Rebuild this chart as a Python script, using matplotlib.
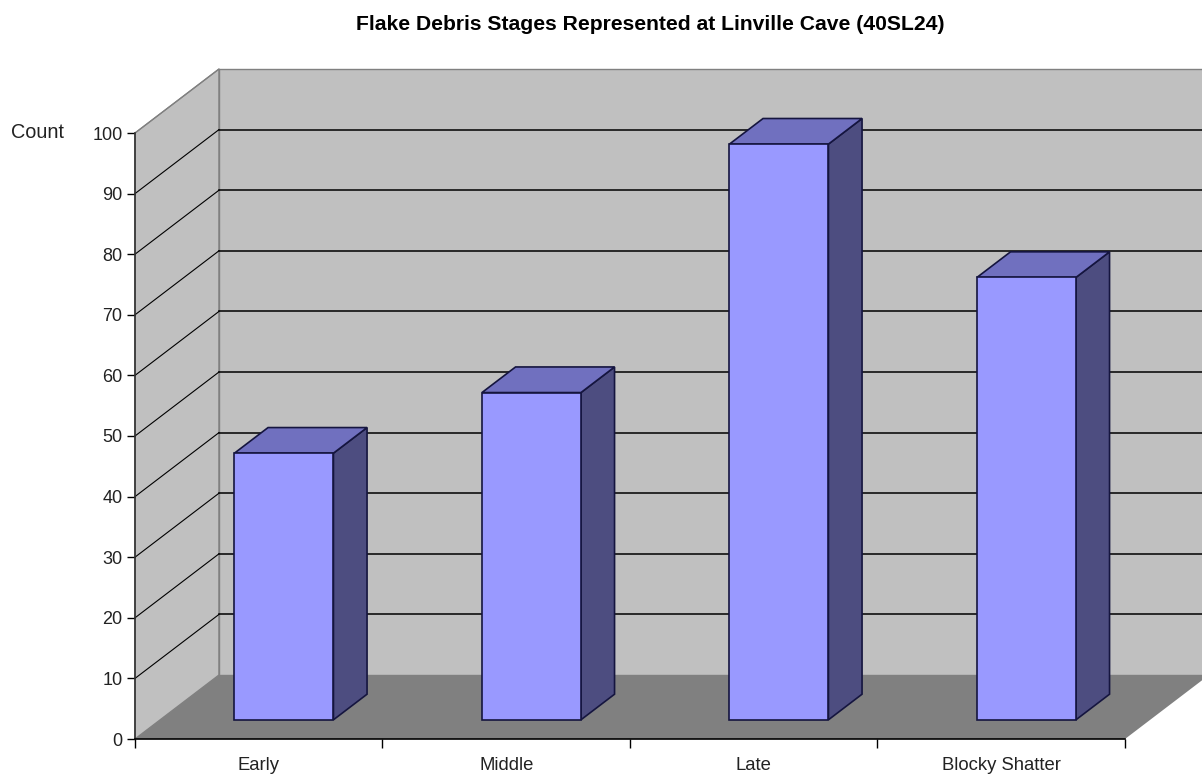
import matplotlib
matplotlib.use('Agg')
import matplotlib.pyplot as plt
from matplotlib.patches import Polygon

categories = ['Early', 'Middle', 'Late', 'Blocky Shatter']
counts = [44, 54, 95, 73]
y_ticks = [0, 10, 20, 30, 40, 50, 60, 70, 80, 90, 100]

# fake 3d depth, in data units
depth_x = 84 / 247.5
depth_y = 64 / 6.06
bar_width = 0.4
bar_front = 0.3
bar_back = 0.7

plt.rcParams['font.family'] = ['Liberation Sans', 'DejaVu Sans']

fig = plt.figure(figsize=(12.02, 7.75), dpi=100)
ax = fig.add_axes([0, 0, 1, 1])
ax.set_xlim(-135 / 247.5, (1202 - 135) / 247.5)
ax.set_ylim(-36 / 6.06, 739 / 6.06)
ax.patch.set_visible(False)

n = len(categories)
top = y_ticks[-1]

# walls and floor
ax.add_patch(Polygon([(0, 0), (depth_x, depth_y), (depth_x, top + depth_y), (0, top)],
                     fc='#c0c0c0', ec='#808080', lw=1, zorder=1))
ax.add_patch(Polygon([(depth_x, depth_y), (n + depth_x, depth_y), (n + depth_x, top + depth_y), (depth_x, top + depth_y)],
                     fc='#c0c0c0', ec='#808080', lw=1, zorder=1))
ax.add_patch(Polygon([(0, 0), (n, 0), (n + depth_x, depth_y), (depth_x, depth_y)],
                     fc='#808080', ec='none', zorder=2))

# gridlines go along the side wall then the back wall
for t in y_ticks[1:]:
    c = 'black' if t < top else '#808080'
    ax.plot([0, depth_x], [t, t + depth_y], color=c, lw=0.8, zorder=3)
    if t < top:
        ax.plot([depth_x, n + depth_x], [t + depth_y, t + depth_y], color='black', lw=1.1, zorder=3)

edge = '#15153f'
for i in range(n):
    x0 = i + 0.5 - bar_width / 2 + bar_front * depth_x
    x1 = x0 + bar_width
    y0 = bar_front * depth_y
    y1 = y0 + counts[i]
    dx = (bar_back - bar_front) * depth_x
    dy = (bar_back - bar_front) * depth_y
    ax.add_patch(Polygon([(x1, y0), (x1 + dx, y0 + dy), (x1 + dx, y1 + dy), (x1, y1)],
                         fc='#4d4d80', ec=edge, lw=1.2, zorder=4))
    ax.add_patch(Polygon([(x0, y1), (x1, y1), (x1 + dx, y1 + dy), (x0 + dx, y1 + dy)],
                         fc='#7070bf', ec=edge, lw=1.2, zorder=4))
    ax.add_patch(Polygon([(x0, y0), (x1, y0), (x1, y1), (x0, y1)],
                         fc='#9999ff', ec=edge, lw=1.2, zorder=5))

# axes lines
for s in ['top', 'right']:
    ax.spines[s].set_visible(False)
ax.spines['left'].set_position(('data', 0))
ax.spines['bottom'].set_position(('data', 0))
ax.spines['left'].set_bounds(0, top)
ax.spines['bottom'].set_bounds(0, n)
ax.spines['left'].set_color('#333333')
ax.spines['left'].set_linewidth(1.2)
ax.spines['bottom'].set_linewidth(1.2)
ax.spines['left'].set_zorder(6)
ax.spines['bottom'].set_zorder(6)

ax.set_yticks(y_ticks)
ax.tick_params(axis='y', length=6, width=1, labelsize=13, pad=3, labelcolor='#222222')
ax.set_xticks(range(n + 1))
ax.set_xticklabels([])
ax.tick_params(axis='x', which='major', length=6.5, width=1)
ax.set_xticks([i + 0.5 for i in range(n)], minor=True)
ax.set_xticklabels(categories, minor=True)
ax.tick_params(axis='x', which='minor', length=0, labelsize=13.3, pad=13, labelcolor='#222222')

ax.text(37 / 1202, 1 - 133 / 775, 'Count', transform=ax.transAxes, ha='center', va='center', fontsize=14.3, color='#222222')
ax.text(650 / 1202, 1 - 24 / 775, 'Flake Debris Stages Represented at Linville Cave (40SL24)',
        transform=ax.transAxes, ha='center', va='center', fontsize=15.2, fontweight='bold')

fig.savefig('out.png', dpi=100)
